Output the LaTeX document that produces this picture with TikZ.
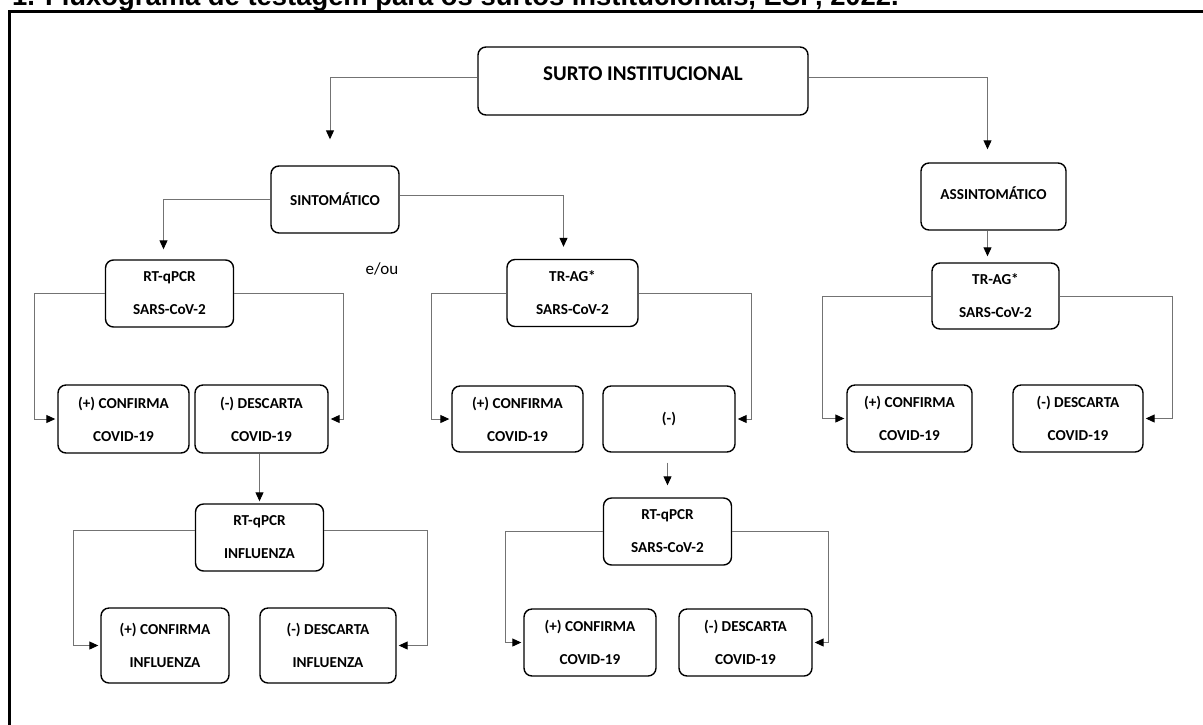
\documentclass[tikz,border=0pt]{standalone}
\usepackage{fontspec}
\setmainfont{Carlito}
\newfontfamily\titlefont{Liberation Sans}
\usetikzlibrary{arrows.meta}

\begin{document}
\begin{tikzpicture}[x=0.5pt,y=-0.5pt]
\tikzset{
    block/.style={rectangle, draw, rounded corners=4pt, line width=0.7pt, inner sep=0pt,
        minimum width=64pt, minimum height=33.5pt, align=center,
        font=\bfseries\fontsize{7.6}{16.5}\selectfont},
    link/.style={draw=black!55, line width=0.5pt,
        -{Triangle[length=4.5pt,width=4pt,color=black]}, shorten >=1pt}
}
\useasboundingbox (0,0) rectangle (1203,724);

  \node[anchor=base west, font=\titlefont\bfseries\fontsize{13.7}{16}\selectfont] (title) at (5,5)
      {1. Fluxograma de testagem para os surtos institucionais, ESP, 2022.};
  \draw[line width=1.5pt] (9,760) -- (9,11) -- (1240,11);

  \node[block, minimum width=165pt, minimum height=34pt, text depth=7pt,
      font=\bfseries\fontsize{10.5}{12}\selectfont] (surto) at (643,81) {SURTO INSTITUCIONAL};
  \node[block] (sint) at (335,199.5) {SINTOMÁTICO};
  \node[block, minimum width=72.5pt, text depth=3.5pt] (assint) at (993.5,196.5) {ASSINTOMÁTICO};

  \node[block] (rtA) at (169.5,293.5) {RT-qPCR\\SARS-CoV-2};
  \node[font=\fontsize{8.5}{10}\selectfont] (eou) at (382,269) {e/ou};
  \node[block, minimum width=65.5pt] (trgA) at (572.5,293) {TR-AG*\\SARS-CoV-2};
  \node[block, minimum width=63.5pt, minimum height=33pt] (trgB) at (995.5,296) {TR-AG*\\SARS-CoV-2};

  \node[block, minimum width=65.5pt, minimum height=34pt] (confA) at (123.5,419) {(+) CONFIRMA\\COVID-19};
  \node[block, minimum width=66.5pt, minimum height=34pt] (descA) at (261.5,419) {(-) DESCARTA\\COVID-19};
  \node[block, minimum width=65.5pt, minimum height=33pt] (confB) at (517.5,419) {(+) CONFIRMA\\COVID-19};
  \node[block, minimum width=66pt, minimum height=33pt] (negB) at (669,419) {(-)};
  \node[block, minimum width=62.5pt] (confC) at (909.5,418.5) {(+) CONFIRMA\\COVID-19};
  \node[block, minimum width=65pt] (descC) at (1078,418.5) {(-) DESCARTA\\COVID-19};

  \node[block] (infl) at (259.5,537.5) {RT-qPCR\\INFLUENZA};
  \node[block] (rtB) at (667.5,531.5) {RT-qPCR\\SARS-CoV-2};

  \node[block, minimum height=37.5pt] (confD) at (165,645.5) {(+) CONFIRMA\\INFLUENZA};
  \node[block, minimum width=68pt, minimum height=37.5pt] (descD) at (328,645.5) {(-) DESCARTA\\INFLUENZA};
  \node[block, minimum width=66pt] (confE) at (590,642.5) {(+) CONFIRMA\\COVID-19};
  \node[block, minimum width=66.5pt] (descE) at (745.5,642.5) {(-) DESCARTA\\COVID-19};

  \draw[link, shorten >=13pt] ([yshift=2pt]surto.west) -| ([xshift=-2.5pt]sint.north);
  \draw[link, shorten >=6.5pt] ([yshift=2pt]surto.east) -| ([xshift=-3pt]assint.north);
  \draw[link, shorten >=5pt] (sint.west) -| ([xshift=-3pt]rtA.north);
  \draw[link, shorten >=6pt] ([yshift=2pt]sint.east) -| ([xshift=-4.5pt]trgA.north);
  \draw[link, shorten >=3pt] ([xshift=-3pt]assint.south) -- ([xshift=-3pt]assint.south |- trgB.north);

  \draw[link] (rtA.west) -- ++(-70,0) |- (confA.west);
  \draw[link] (rtA.east) -- ++(109,0) |- (descA.east);
  \draw[link] (trgA.west) -- ++(-75,0) |- (confB.west);
  \draw[link] (trgA.east) -- ++(113,0) |- (negB.east);
  \draw[link] (trgB.west) -- ++(-109,0) |- (confC.west);
  \draw[link] (trgB.east) -- ++(113,0) |- (descC.east);

  \draw[link] (infl.north |- descA.south) -- (infl.north);
  \draw[link] ([yshift=3.5pt]infl.west) -- ++(-121,0) |- (confD.west);
  \draw[link] ([yshift=3.5pt]infl.east) -- ++(103,0) |- (descD.east);

  \draw[link, shorten <=5pt, shorten >=6pt] (rtB.north |- negB.south) -- (rtB.north);
  \draw[link] (rtB.west) -- ++(-97,0) |- (confE.west);
  \draw[link] (rtB.east) -- ++(96,0) |- (descE.east);
\end{tikzpicture}
\end{document}
